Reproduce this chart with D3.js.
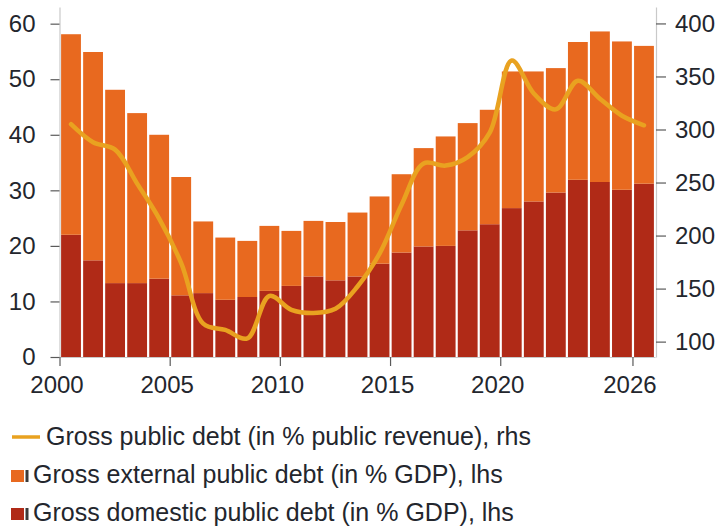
<!DOCTYPE html>
<html>
<head>
<meta charset="utf-8">
<script src="https://cdn.jsdelivr.net/npm/d3@7"></script>
<style>
  html, body { margin: 0; padding: 0; background: #fff; }
  svg { display: block; font-family: "Liberation Sans", Arial, sans-serif; }
  .tick text { fill: #23262d; font-size: 24px; }
</style>
</head>
<body>
<svg id="chart" width="719" height="529"></svg>
<script>
// Years shown on the category axis
const years = [2000, 2001, 2002, 2003, 2004, 2005, 2006, 2007, 2008, 2009,
               2010, 2011, 2012, 2013, 2014, 2015, 2016, 2017, 2018, 2019,
               2020, 2021, 2022, 2023, 2024, 2025, 2026];

// Gross domestic public debt, % of GDP (left axis, lower stack)
const domestic = [22.0, 17.4, 13.3, 13.3, 14.1, 11.1, 11.5, 10.3, 10.8, 11.9,
                  12.8, 14.5, 13.8, 14.5, 16.8, 18.8, 19.9, 20.0, 22.8, 23.9,
                  26.8, 28.0, 29.6, 31.9, 31.5, 30.1, 31.2];

// Gross external public debt, % of GDP (left axis, upper stack)
const external = [36.1, 37.5, 34.8, 30.6, 25.9, 21.3, 12.9, 11.2, 10.1, 11.7,
                  9.9, 10.0, 10.5, 11.5, 12.1, 14.1, 17.7, 19.7, 19.3, 20.6,
                  24.6, 23.4, 22.4, 24.8, 27.1, 26.7, 24.8];

// Gross public debt, % of public revenue (right axis, line)
const debtToRevenue = [305, 288, 281, 249, 216, 174, 117, 111, 103, 143,
                       130, 127, 131, 152, 183, 229, 268, 266, 274, 297,
                       365, 334, 319, 346, 329, 313, 304];

// Axis tick values
const leftTicks = [0, 10, 20, 30, 40, 50, 60];
const rightTicks = [100, 150, 200, 250, 300, 350, 400];
const yearTicks = [2000, 2005, 2010, 2015, 2020, 2026];

const legendItems = [
  { label: "Gross public debt (in % public revenue), rhs", type: "line", color: "#e9a220" },
  { label: "Gross external public debt (in % GDP), lhs", type: "box", color: "#e8691f" },
  { label: "Gross domestic public debt (in % GDP), lhs", type: "box", color: "#b02a17" }
];

const colExternal = "#e8691f";
const colDomestic = "#b02a17";
const colLine = "#e9a220";
const colAxis = "#c9c9c9";
const colTick = "#5a5a5a";

const svg = d3.select("#chart");

const plot = { left: 60, right: 655, top: 7, bottom: 357 };

const x = d3.scaleBand()
  .domain(years)
  .range([plot.left, plot.right])
  .paddingInner(0.1)
  .paddingOuter(0.05);

const yL = d3.scaleLinear().domain([0, 63]).range([plot.bottom, plot.top]);
const yR = d3.scaleLinear().domain([85.5, 415.5]).range([plot.bottom, plot.top]);

// Stacked bars: domestic at the bottom, external on top
const rows = years.map((yr, i) => ({ year: yr, domestic: domestic[i], external: external[i] }));
const stack = d3.stack().keys(["domestic", "external"]);
const layers = stack(rows);
const layerColor = { domestic: colDomestic, external: colExternal };

svg.append("g")
  .selectAll("g")
  .data(layers)
  .join("g")
  .attr("fill", d => layerColor[d.key])
  .selectAll("rect")
  .data(d => d)
  .join("rect")
  .attr("x", d => x(d.data.year))
  .attr("width", x.bandwidth())
  .attr("y", d => yL(d[1]))
  .attr("height", d => yL(d[0]) - yL(d[1]));

// Left axis
const axL = svg.append("g")
  .attr("transform", `translate(${plot.left - 0.5},0)`)
  .call(d3.axisLeft(yL).tickValues(leftTicks).tickSize(9).tickSizeOuter(0).tickPadding(15));
axL.select(".domain").attr("stroke", colAxis).attr("stroke-width", 1.2);
axL.selectAll(".tick line").attr("stroke", colTick).attr("stroke-width", 1.2);

// Right axis
const axR = svg.append("g")
  .attr("transform", `translate(${plot.right + 1},0)`)
  .call(d3.axisRight(yR).tickValues(rightTicks).tickSize(10).tickSizeOuter(0).tickPadding(9));
axR.select(".domain").attr("stroke", colAxis).attr("stroke-width", 1.2);
axR.selectAll(".tick line").attr("stroke", colTick).attr("stroke-width", 1.2);

// Bottom axis: ticks sit on the boundary before each year's bar
const axB = svg.append("g")
  .attr("transform", `translate(0,${plot.bottom})`)
  .call(d3.axisBottom(x).tickValues(yearTicks).tickSize(9).tickSizeOuter(0).tickPadding(10));
axB.select(".domain").attr("stroke", colAxis).attr("stroke-width", 1.2);
axB.selectAll(".tick").attr("transform", d => `translate(${x(d) + x.bandwidth() / 2 - x.step() / 2},0)`);
axB.selectAll(".tick line").attr("stroke", colTick).attr("stroke-width", 1.2);
axB.selectAll(".tick text").attr("dx", -3);

// Debt-to-revenue line
const line = d3.line()
  .x((d, i) => x(years[i]) + x.bandwidth() / 2)
  .y(d => yR(d))
  .curve(d3.curveCatmullRom.alpha(0.5));

svg.append("path")
  .datum(debtToRevenue)
  .attr("fill", "none")
  .attr("stroke", colLine)
  .attr("stroke-width", 4.5)
  .attr("stroke-linejoin", "round")
  .attr("stroke-linecap", "round")
  .attr("d", line);

// Legend
const legend = svg.append("g");
const legendRows = [
  { base: 445, textX: 46 },
  { base: 483, textX: 33 },
  { base: 521, textX: 33 }
];
legendItems.forEach((item, i) => {
  const r = legendRows[i];
  if (item.type === "line") {
    legend.append("line")
      .attr("x1", 12).attr("x2", 40)
      .attr("y1", r.base - 8).attr("y2", r.base - 8)
      .attr("stroke", item.color).attr("stroke-width", 3.5);
  } else {
    legend.append("rect")
      .attr("x", 11).attr("y", r.base - 13)
      .attr("width", 13).attr("height", 12)
      .attr("fill", item.color);
    legend.append("rect")
      .attr("x", 25.5).attr("y", r.base - 13)
      .attr("width", 3).attr("height", 12)
      .attr("fill", "#3a3a3a");
  }
  legend.append("text")
    .attr("x", r.textX).attr("y", r.base)
    .attr("fill", "#23262d")
    .attr("font-size", 25)
    .text(item.label);
});
</script>
</body>
</html>
